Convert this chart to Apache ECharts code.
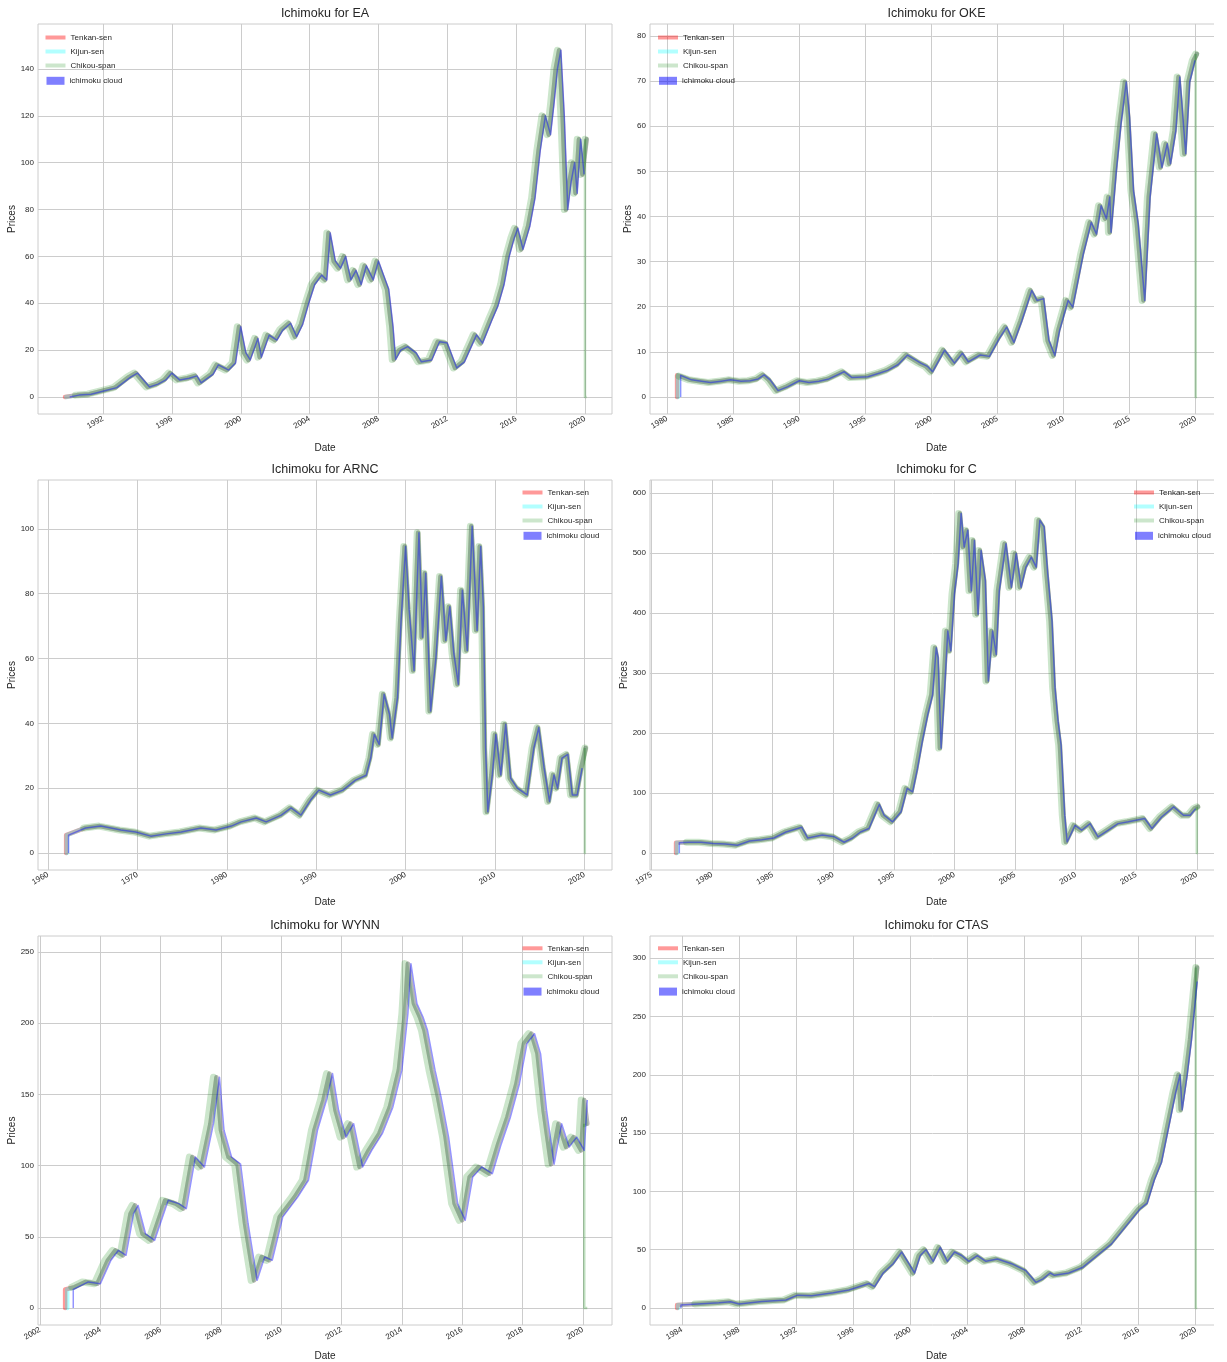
<!DOCTYPE html>
<html>
<head>
<meta charset="utf-8">
<title>Ichimoku</title>
<script src="https://cdn.jsdelivr.net/npm/echarts@6/dist/echarts.min.js"></script>
<style>
  html, body { margin: 0; padding: 0; background: #fff; }
  #chart { width: 1214px; height: 1362px; overflow: hidden; }
</style>
</head>
<body>
<div id="chart"></div>
<script>
// closing prices (decimal year, price)
const eaYears = [1989.76, 1990.5, 1991.2, 1992.0, 1992.7, 1993.5, 1993.9, 1994.6, 1995.1, 1995.55, 1995.9, 1996.35, 1996.9, 1997.36, 1997.6, 1998.3, 1998.6, 1999.2, 1999.6, 1999.9, 2000.2, 2000.45, 2000.9, 2001.1, 2001.55, 2002.0, 2002.35, 2002.8, 2003.15, 2003.5, 2003.85, 2004.2, 2004.6, 2004.9, 2005.1, 2005.4, 2005.7, 2006.0, 2006.3, 2006.6, 2006.9, 2007.2, 2007.6, 2007.9, 2008.2, 2008.5, 2008.75, 2008.9, 2009.2, 2009.6, 2010.1, 2010.4, 2011.0, 2011.45, 2011.9, 2012.45, 2012.9, 2013.6, 2013.95, 2014.5, 2014.85, 2015.2, 2015.5, 2015.8, 2016.0, 2016.3, 2016.7, 2017.0, 2017.3, 2017.6, 2017.9, 2018.1, 2018.3, 2018.5, 2018.7, 2018.9, 2019.1, 2019.3, 2019.45, 2019.65, 2019.85, 2020.1];
const eaPrices = [0.5, 0.8, 1.2, 2.7, 4, 8.5, 10.2, 4.3, 5.5, 7.3, 10.2, 7.3, 8, 9, 6, 9.8, 13.7, 11.5, 14.5, 30, 18.8, 15.8, 25, 17, 26.4, 24.3, 28.6, 31.5, 25.7, 31, 40, 48, 52, 50, 70, 58, 55, 60, 50, 54, 48, 56, 50, 58, 52, 46, 30, 16, 20, 21.5, 18.7, 15, 15.8, 23.6, 23, 12.4, 15, 26.5, 23, 33, 39, 48, 60, 68, 72, 63, 73, 85, 105, 120, 112, 125, 140, 148, 120, 80, 92, 100, 87, 110, 95, 110];

const okeYears = [1980.73, 1981.0, 1981.75, 1982.5, 1983.2, 1984.0, 1984.7, 1985.5, 1986.2, 1986.8, 1987.25, 1987.7, 1988.3, 1989.05, 1989.9, 1990.65, 1991.4, 1992.15, 1993.3, 1993.9, 1995.1, 1996.0, 1996.6, 1997.4, 1998.1, 1999.1, 1999.6, 2000.0, 2000.9, 2001.65, 2002.25, 2002.7, 2003.6, 2004.3, 2005.05, 2005.6, 2006.15, 2006.75, 2007.5, 2007.9, 2008.4, 2008.8, 2009.25, 2009.6, 2010.25, 2010.6, 2011.4, 2012.0, 2012.4, 2012.75, 2013.15, 2013.4, 2013.5, 2013.9, 2014.25, 2014.65, 2014.9, 2015.2, 2015.55, 2016.05, 2016.45, 2016.95, 2017.35, 2017.75, 2018.0, 2018.4, 2018.7, 2019.15, 2019.45, 2019.85, 2020.1];
const okePrices = [4.8, 4.6, 3.8, 3.5, 3.2, 3.5, 3.8, 3.5, 3.6, 4.0, 4.9, 3.8, 1.4, 2.3, 3.6, 3.2, 3.5, 4.0, 5.6, 4.3, 4.5, 5.3, 5.9, 7.2, 9.3, 7.5, 6.8, 5.6, 10.4, 7.5, 9.7, 7.8, 9.3, 9.0, 13.0, 15.5, 12.1, 16.9, 23.6, 21.4, 21.8, 12.5, 9.2, 14.7, 21.4, 19.9, 31.7, 38.7, 36.1, 42.4, 39.5, 44.3, 36.5, 50.2, 60.5, 69.8, 62, 45.7, 38.4, 21.4, 44.3, 58.3, 50.9, 56.1, 51.7, 59.0, 70.9, 53.9, 69.8, 74.6, 76];

const arncYears = [1962.0, 1964.1, 1965.8, 1968.05, 1969.7, 1971.4, 1973.1, 1974.8, 1977.0, 1978.7, 1980.4, 1981.5, 1983.2, 1984.3, 1986.0, 1987.1, 1988.2, 1989.3, 1990.2, 1991.5, 1992.9, 1994.3, 1995.5, 1996.0, 1996.4, 1996.95, 1997.5, 1998.1, 1998.4, 1999.0, 1999.4, 1999.9, 2000.3, 2000.85, 2001.4, 2001.8, 2002.15, 2002.7, 2003.3, 2003.9, 2004.4, 2004.85, 2005.3, 2005.8, 2006.25, 2006.8, 2007.35, 2007.9, 2008.3, 2008.6, 2008.85, 2009.1, 2009.6, 2010.0, 2010.55, 2011.1, 2011.65, 2012.4, 2013.5, 2014.25, 2014.8, 2015.4, 2016.0, 2016.5, 2016.9, 2017.4, 2018.05, 2018.55, 2019.1, 2019.65, 2020.15];
const arncPrices = [5.5, 7.7, 8.3, 7.1, 6.5, 5.2, 5.9, 6.5, 7.7, 7.1, 8.3, 9.6, 10.8, 9.6, 11.7, 13.9, 11.7, 16.4, 19.4, 17.9, 19.4, 22.5, 24, 29.3, 36.6, 33.5, 49, 42.8, 35.5, 48, 71.8, 94.6, 75, 56.3, 98.8, 66.6, 86.3, 43.8, 60.4, 85.3, 65.6, 76, 61.5, 52.1, 81.1, 62.5, 100.8, 68.7, 94.6, 76, 32.4, 12.7, 24.1, 36.6, 24.1, 39.7, 23.1, 20, 17.9, 32.4, 38.7, 26.2, 15.9, 24.1, 20, 29.3, 30.4, 17.9, 17.9, 26.2, 32.4];

const cYears = [1977.0, 1978.0, 1979.0, 1980.0, 1981.0, 1982.0, 1983.0, 1984.0, 1985.0, 1986.0, 1987.3, 1987.8, 1989.0, 1990.0, 1990.8, 1991.5, 1992.15, 1992.85, 1993.7, 1994.1, 1994.8, 1995.5, 1996.0, 1996.45, 1996.85, 1997.25, 1997.7, 1998.1, 1998.4, 1998.55, 1998.8, 1999.05, 1999.35, 1999.6, 1999.9, 2000.2, 2000.45, 2000.7, 2001.0, 2001.3, 2001.55, 2001.85, 2002.1, 2002.45, 2002.7, 2003.05, 2003.35, 2003.6, 2004.15, 2004.6, 2005.0, 2005.4, 2005.8, 2006.25, 2006.65, 2006.95, 2007.3, 2007.6, 2007.95, 2008.2, 2008.45, 2008.7, 2009.0, 2009.2, 2009.85, 2010.4, 2011.1, 2011.75, 2012.6, 2013.4, 2014.25, 2015.6, 2016.2, 2017.0, 2018.0, 2018.8, 2019.35, 2019.8, 2020.1];
const cPrices = [17, 18, 18, 16, 15, 13, 20, 22, 25, 35, 43, 25, 30, 27, 18, 25, 35, 40.8, 81, 63, 52, 68.7, 107.8, 102, 141, 186, 230.7, 264, 342, 325.7, 174.9, 258.7, 370, 337, 432, 482, 566, 510, 538, 437, 521, 398, 504, 454, 286.6, 370, 331, 437, 515.6, 443, 499, 443, 476.5, 493, 476.5, 554.7, 543.6, 465, 387, 275, 219.6, 180, 63, 18.4, 46, 38, 49, 26.8, 38, 49, 52, 57.5, 40.8, 60, 77, 63, 63, 74, 77];

const wynnYears = [2002.8, 2003.15, 2003.5, 2003.9, 2004.25, 2004.5, 2004.75, 2005.0, 2005.15, 2005.4, 2005.7, 2006.15, 2006.5, 2006.75, 2007.05, 2007.35, 2007.65, 2007.85, 2008.0, 2008.25, 2008.55, 2008.8, 2009.1, 2009.35, 2009.6, 2009.95, 2010.45, 2010.8, 2011.1, 2011.4, 2011.6, 2011.8, 2012.05, 2012.3, 2012.6, 2012.9, 2013.25, 2013.6, 2013.9, 2014.1, 2014.2, 2014.4, 2014.6, 2014.75, 2015.0, 2015.2, 2015.45, 2015.75, 2016.0, 2016.25, 2016.55, 2016.9, 2017.2, 2017.5, 2017.8, 2018.05, 2018.3, 2018.5, 2018.7, 2018.95, 2019.2, 2019.45, 2019.7, 2019.95, 2020.05, 2020.15];
const wynnPrices = [13, 14.7, 18.3, 17, 33.5, 40.5, 37, 66.2, 72, 52, 47.5, 75.6, 73.3, 69.8, 106, 99, 129.4, 162, 124.8, 106, 101, 59, 19.4, 35.8, 33.5, 64, 78, 89.7, 124.8, 146, 164.6, 138.8, 120, 129.4, 99, 110.7, 122.4, 141, 167, 206.7, 241.8, 213.7, 204.3, 195, 167, 148, 120, 73.3, 61.6, 92, 99, 94.3, 115.4, 134, 157.5, 185.6, 192.6, 178.6, 138.8, 101, 129.4, 113, 120, 110.7, 146, 129.4];

const ctasYears = [1983.63, 1985.0, 1986.5, 1987.3, 1987.9, 1989.5, 1991.2, 1992.0, 1993.0, 1994.5, 1995.6, 1997.0, 1997.4, 1998.0, 1998.7, 1999.3, 1999.8, 2000.2, 2000.6, 2001.0, 2001.5, 2002.0, 2002.5, 2003.0, 2003.5, 2004.0, 2004.6, 2005.2, 2006.0, 2007.0, 2008.0, 2008.7, 2009.2, 2009.7, 2010.0, 2011.0, 2012.0, 2012.5, 2013.0, 2014.0, 2015.0, 2016.0, 2016.5, 2017.0, 2017.5, 2018.0, 2018.5, 2018.8, 2018.95, 2019.3, 2019.6, 2019.8, 2020.0, 2020.1];
const ctasPrices = [2.6, 3.5, 4.5, 5.4, 3.4, 5.5, 6.9, 11, 10.5, 13, 15.4, 21, 18.3, 30, 38, 48, 38, 30, 45, 50, 40, 52, 40, 48, 45, 40, 45, 40, 42, 38, 32, 22, 25, 30, 28, 30, 35, 40, 45, 55, 70, 85, 90, 110, 125, 155, 185, 200, 170, 200, 230, 255, 280, 292];

// tick values
const eaXTicks = [1992, 1996, 2000, 2004, 2008, 2012, 2016, 2020];
const eaYTicks = [0, 20, 40, 60, 80, 100, 120, 140];
const okeXTicks = [1980, 1985, 1990, 1995, 2000, 2005, 2010, 2015, 2020];
const okeYTicks = [0, 10, 20, 30, 40, 50, 60, 70, 80];
const arncXTicks = [1960, 1970, 1980, 1990, 2000, 2010, 2020];
const arncYTicks = [0, 20, 40, 60, 80, 100];
const cXTicks = [1975, 1980, 1985, 1990, 1995, 2000, 2005, 2010, 2015, 2020];
const cYTicks = [0, 100, 200, 300, 400, 500, 600];
const wynnXTicks = [2002, 2004, 2006, 2008, 2010, 2012, 2014, 2016, 2018, 2020];
const wynnYTicks = [0, 50, 100, 150, 200, 250];
const ctasXTicks = [1984, 1988, 1992, 1996, 2000, 2004, 2008, 2012, 2016, 2020];
const ctasYTicks = [0, 50, 100, 150, 200, 250, 300];

const stocks = [
  { name: 'EA', years: eaYears, prices: eaPrices, xTicks: eaXTicks, yTicks: eaYTicks },
  { name: 'OKE', years: okeYears, prices: okePrices, xTicks: okeXTicks, yTicks: okeYTicks },
  { name: 'ARNC', years: arncYears, prices: arncPrices, xTicks: arncXTicks, yTicks: arncYTicks },
  { name: 'C', years: cYears, prices: cPrices, xTicks: cXTicks, yTicks: cYTicks },
  { name: 'WYNN', years: wynnYears, prices: wynnPrices, xTicks: wynnXTicks, yTicks: wynnYTicks },
  { name: 'CTAS', years: ctasYears, prices: ctasPrices, xTicks: ctasXTicks, yTicks: ctasYTicks }
];

// panel placement and axis ranges
const layout = [
  { left: 38, top: 24, width: 574, height: 390, x: [1988.22, 2021.57], y: [-7.26, 159.2], lgLeft: 45.5, lgTop: 32.5, yGap: 21, xGap: 29 },
  { left: 650, top: 24, width: 573, height: 390, x: [1978.71, 2022.07], y: [-3.77, 82.66], lgLeft: 658, lgTop: 32.5, yGap: 17, xGap: 29 },
  { left: 38, top: 480, width: 574, height: 390, x: [1958.88, 2023.09], y: [-5.25, 115.1], lgLeft: 522.5, lgTop: 487.5, yGap: 21, xGap: 27 },
  { left: 650, top: 480, width: 573, height: 390, x: [1974.88, 2022.16], y: [-28.3, 621.7], lgLeft: 1134, lgTop: 487.5, yGap: 20, xGap: 27 },
  { left: 38, top: 936, width: 574, height: 389, x: [2001.93, 2020.97], y: [-11.94, 261.2], lgLeft: 522.5, lgTop: 943.3, yGap: 21, xGap: 26 },
  { left: 650, top: 936, width: 573, height: 389, x: [1981.76, 2021.91], y: [-14.58, 319.0], lgLeft: 658, lgTop: 943.3, yGap: 20, xGap: 26 }
];

const LAG = 0.1; // 26 trading days
const FONT = 'Liberation Sans, Arial, sans-serif';
const TXT = '#262626';

function riseFromZero(pts, dx) {
  const x = pts[0][0] + dx;
  return [[x, 0], [x, pts[0][1]]].concat(pts.filter(p => p[0] > x));
}

const option = {
  animation: false,
  backgroundColor: '#fff',
  title: [], grid: [], xAxis: [], yAxis: [], legend: [], series: []
};

stocks.forEach((s, i) => {
  const L = layout[i];
  const pts = s.years.map((y, k) => [y, s.prices[k]]);
  const x0 = pts[0][0];
  const xEnd = pts[pts.length - 1][0];

  const tenkan = riseFromZero(pts, 0.03);
  const kijun = riseFromZero(pts, 0.1);
  const chikou = pts.map(p => [p[0] - LAG, p[1]]).filter(p => p[0] >= x0);
  const cLast = chikou[chikou.length - 1];
  // chikou is empty for the last 26 days and was filled with 0
  const chikouDrop = [cLast, [cLast[0], 0], [xEnd, 0]];
  const cloud = riseFromZero(pts.map(p => [p[0] + LAG, p[1]]), 0.2).filter(p => p[0] <= xEnd);

  option.title.push({
    text: 'Ichimoku for ' + s.name,
    left: L.left + L.width / 2, top: L.top - 17, textAlign: 'center', padding: 0,
    textStyle: { fontFamily: FONT, fontSize: 12.5, fontWeight: 'normal', color: TXT }
  });
  option.grid.push({
    left: L.left, top: L.top, width: L.width, height: L.height,
    show: true, borderColor: '#cccccc', borderWidth: 1, backgroundColor: 'transparent',
    containLabel: false, outerBoundsMode: 'none'
  });
  option.xAxis.push({
    type: 'value', gridIndex: i, min: L.x[0], max: L.x[1],
    name: 'Date', nameLocation: 'middle', nameGap: L.xGap,
    nameTextStyle: { fontFamily: FONT, fontSize: 10, color: TXT },
    axisLine: { show: false },
    axisTick: { show: false, customValues: s.xTicks },
    axisLabel: {
      customValues: s.xTicks, rotate: 30, margin: 4, hideOverlap: false,
      fontFamily: FONT, fontSize: 8, color: TXT, formatter: v => String(v)
    },
    splitLine: { show: true, lineStyle: { color: '#cccccc', width: 1 } }
  });
  option.yAxis.push({
    type: 'value', gridIndex: i, min: L.y[0], max: L.y[1],
    name: 'Prices', nameLocation: 'middle', nameGap: L.yGap, nameRotate: 90,
    nameTextStyle: { fontFamily: FONT, fontSize: 10, color: TXT },
    axisLine: { show: false },
    axisTick: { show: false, customValues: s.yTicks },
    axisLabel: {
      customValues: s.yTicks, margin: 4, hideOverlap: false,
      fontFamily: FONT, fontSize: 8, color: TXT, formatter: v => String(v)
    },
    splitLine: { show: true, lineStyle: { color: '#cccccc', width: 1 } }
  });

  const lgText = { fontFamily: FONT, fontSize: 8, color: TXT, lineHeight: 10 };
  option.legend.push({
    orient: 'vertical', left: L.lgLeft, top: L.lgTop, padding: 0,
    itemWidth: 20, itemHeight: 4, itemGap: 4, icon: 'rect',
    textStyle: lgText, selectedMode: false,
    data: [
      { name: 'Tenkan-sen', itemStyle: { color: 'rgba(255,0,0,0.4)', borderWidth: 0 } },
      { name: 'Kijun-sen', itemStyle: { color: 'rgba(0,255,255,0.3)', borderWidth: 0 } },
      { name: 'Chikou-span', itemStyle: { color: 'rgba(0,128,0,0.2)', borderWidth: 0 } }
    ]
  });
  option.legend.push({
    orient: 'vertical', left: L.lgLeft + 1, top: L.lgTop + 43.3, padding: 0,
    itemWidth: 18, itemHeight: 8, icon: 'rect',
    textStyle: lgText, selectedMode: false,
    data: [{ name: 'ichimoku cloud', itemStyle: { color: 'rgba(0,0,255,0.5)', borderWidth: 0 } }]
  });

  const common = { type: 'line', xAxisIndex: i, yAxisIndex: i, symbol: 'none', showSymbol: false, silent: true };
  option.series.push(
    Object.assign({}, common, { name: 'Tenkan-sen', data: tenkan, color: 'rgb(255,0,0)',
      lineStyle: { color: 'rgb(255,0,0)', opacity: 0.4, width: 4.5, join: 'round', cap: 'round' } }),
    Object.assign({}, common, { name: 'Kijun-sen', data: kijun, color: 'rgb(0,255,255)',
      lineStyle: { color: 'rgb(0,255,255)', opacity: 0.3, width: 4.5, join: 'round', cap: 'round' } }),
    Object.assign({}, common, { name: 'Chikou-span', data: chikou, color: 'rgb(0,128,0)',
      lineStyle: { color: 'rgb(0,128,0)', opacity: 0.2, width: 7, join: 'round', cap: 'round' } }),
    Object.assign({}, common, { name: 'Chikou-span', data: chikouDrop, color: 'rgb(0,128,0)',
      lineStyle: { color: 'rgb(0,128,0)', opacity: 0.25, width: 2.5, join: 'round' } }),
    Object.assign({}, common, { name: 'ichimoku cloud', data: cloud, color: 'rgb(0,0,255)',
      lineStyle: { color: 'rgb(0,0,255)', opacity: 0.42, width: 1.5, join: 'round' } })
  );
});

const chart = echarts.init(document.getElementById('chart'), null, { renderer: 'canvas' });
chart.setOption(option);
</script>
</body>
</html>
